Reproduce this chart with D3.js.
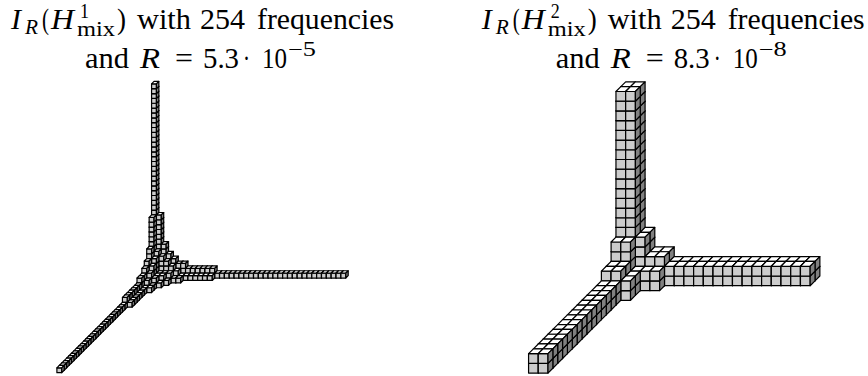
<!DOCTYPE html>
<html>
<head>
<meta charset="utf-8">
<style>
  html, body { margin: 0; padding: 0; background: #fff; }
  svg { display: block; }
  text { font-family: "Liberation Serif", serif; fill: #000; }
</style>
<script src="https://cdn.jsdelivr.net/npm/d3@7"></script>
</head>
<body>
<svg width="868" height="376"></svg>
<script>
// Column heights of each index set: one row per depth (y), one entry per x
const leftHeights = [
  [40,13,7,5,4,3,3,2,2,2,2,2,2,1,1,1,1,1,1,1,1,1,1,1,1,1,1,1,1,1,1,1,1,1,1,1,1,1,1,1],
  [13,6,5,4,3,2,1,1,1,1,1,1,1],
  [7,5,2,2,2,1,1],
  [5,4,2,2,1],
  [4,3,2,1],
  [3,2,1],
  [3,1,1],
  [2,1],[2,1],[2,1],[2,1],[2,1],[2,1],
  [1],[1],[1],[1],[1],[1],[1],[1],[1],[1],[1],[1],[1],[1],[1],[1],[1],[1],[1],[1],[1],[1],[1],[1],[1],[1],[1]
];

const rightHeights = [
  [20,20,5,3,3,2,2,2,2,2,2,2,2,2,2,2,2,2,2,2],
  [20,20,5,3,3,2,2,2,2,2,2,2,2,2,2,2,2,2,2,2],
  [5,5,2,2,2],
  [3,3,2],
  [3,3,2],
  [2,2],[2,2],[2,2],[2,2],[2,2],[2,2],[2,2],[2,2],[2,2],[2,2],[2,2],[2,2],[2,2],[2,2],[2,2]
];

const titleLeft = ["I", "R", "(", "H", "1", "mix", ")", "with", "254", "frequencies", "and", "R", "=", "5.3", "·", "10", "−5"];
const titleRight = ["I", "R", "(", "H", "2", "mix", ")", "with", "254", "frequencies", "and", "R", "=", "8.3", "·", "10", "−8"];

// where each title piece goes: x, width, baseline, size, italic (x measured from the left title)
const titleLayout = [
  [11, 10, 29, 29, true],
  [25, 13, 34, 20, true],
  [42, 7, 29, 29, false],
  [51, 23, 29, 29, true],
  [80, 9, 18, 20, false],
  [77, 38, 36, 22, false],
  [117, 9, 29, 29, false],
  [137, 54, 29, 29, false],
  [200, 45, 29, 29, false],
  [257, 137, 29, 29, false],
  [85, 44, 68, 29, false],
  [140, 20, 68, 29, true],
  [175, 18, 68, 29, false],
  [203, 36, 68, 29, false],
  [243, 7, 68, 29, false],
  [262, 25, 68, 29, false],
  [288, 28, 56, 20, false]
];

const svg = d3.select("svg");
const lineStyle = {stroke: "#000", width: 1.2};

//Flatten a height table to single cubes, in painter's order (back to front)
function cubesFrom(heights) {
  const cubes = [];
  heights.forEach((row, y) => {
    row.forEach((h, x) => {
      for (let z = 0; z < h; z++) cubes.push({x, y, z});
    });
  });
  return cubes;
}

function drawCubes(heights, originX, originY, unit) {
  const n = heights[0].length;
  const xScale = d3.scaleLinear().domain([0, n]).range([originX, originX + n * unit]);
  const zScale = d3.scaleLinear().domain([0, n]).range([originY, originY - n * unit]);
  //depth axis goes down and to the left at half a unit
  const depth = d3.scaleLinear().domain([0, n]).range([0, n * unit / 2]);

  const project = ([x, y, z]) => [xScale(x) - depth(y), zScale(z) + depth(y)];
  const line = d3.line();
  const outline = corners => line(corners.map(project)) + "Z";

  const g = svg.append("g")
      .attr("stroke", lineStyle.stroke)
      .attr("stroke-width", lineStyle.width)
      .attr("stroke-linejoin", "round");

  const cube = g.selectAll("g")
      .data(cubesFrom(heights))
      .join("g");

  //front
  cube.append("path")
      .attr("fill", "#ccc")
      .attr("d", d => outline([[d.x, d.y+1, d.z], [d.x+1, d.y+1, d.z], [d.x+1, d.y+1, d.z+1], [d.x, d.y+1, d.z+1]]));
  //top
  cube.append("path")
      .attr("fill", "#fff")
      .attr("d", d => outline([[d.x, d.y+1, d.z+1], [d.x+1, d.y+1, d.z+1], [d.x+1, d.y, d.z+1], [d.x, d.y, d.z+1]]));
  //right side
  cube.append("path")
      .attr("fill", "#808080")
      .attr("d", d => outline([[d.x+1, d.y+1, d.z], [d.x+1, d.y, d.z], [d.x+1, d.y, d.z+1], [d.x+1, d.y+1, d.z+1]]));
}

function drawTitle(pieces, dx) {
  svg.append("g").selectAll("text")
      .data(pieces)
      .join("text")
      .attr("x", (d, i) => titleLayout[i][0] + dx)
      .attr("y", (d, i) => titleLayout[i][2])
      .attr("font-size", (d, i) => titleLayout[i][3])
      .attr("font-style", (d, i) => titleLayout[i][4] ? "italic" : "normal")
      .attr("textLength", (d, i) => titleLayout[i][1])
      .attr("lengthAdjust", "spacingAndGlyphs")
      .text(d => d);
}

drawCubes(leftHeights, 154, 275.6, 4.855);
drawCubes(rightHeights, 625.67, 276, 9.71);
drawTitle(titleLeft, 0);
drawTitle(titleRight, 470.7);
</script>
</body>
</html>
